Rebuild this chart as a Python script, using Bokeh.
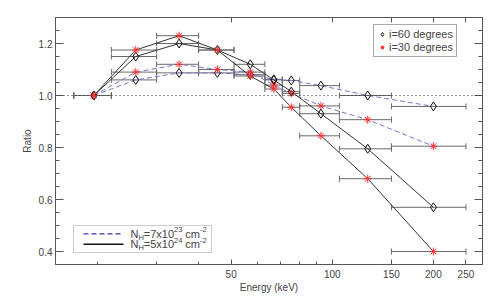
from bokeh.plotting import figure
from bokeh.models import (ColumnDataSource, Whisker, TeeHead, FixedTicker, LogAxis,
                          LinearAxis, Span, Legend, LegendItem, BoxAnnotation, Label, Arrow,
                          CustomLabelingPolicy)
from bokeh.embed import file_html
from bokeh.resources import INLINE

# ---------------- data ----------------
energy = [19.5, 26.0, 35.0, 45.5, 57.0, 67.0, 75.5, 92.5, 127.5, 200.0]
energy_lo = [17, 22, 30, 40, 51, 63, 71, 80, 105, 150]
energy_hi = [22, 30, 40, 51, 63, 71, 80, 105, 150, 250]

ratio_i60_nh5e24 = [1.0, 1.15, 1.20, 1.175, 1.12, 1.06, 1.015, 0.93, 0.795, 0.57]
ratio_i30_nh5e24 = [1.0, 1.175, 1.23, 1.175, 1.075, 1.025, 0.955, 0.845, 0.68, 0.40]
ratio_i60_nh7e23 = [1.0, 1.06, 1.087, 1.087, 1.08, 1.062, 1.058, 1.038, 1.0, 0.958]
ratio_i30_nh7e23 = [1.0, 1.09, 1.12, 1.10, 1.09, 1.04, 1.008, 0.96, 0.907, 0.805]

x_ticks = [50, 100, 150, 200, 250]
x_tick_labels = ["50", "100", "150", "200", "250"]
x_minor_ticks = [20, 30, 40, 60, 70, 80, 90]
y_ticks = [0.4, 0.6, 0.8, 1.0, 1.2]
y_tick_labels = ["0.4", "0.6", "0.8", "1.0", "1.2"]
y_minor_ticks = [0.35, 0.40, 0.45, 0.50, 0.55, 0.60, 0.65, 0.70, 0.75, 0.80, 0.85,
                 0.90, 0.95, 1.00, 1.05, 1.10, 1.15, 1.20, 1.25, 1.30]

legend_markers = ["i=60 degrees", "i=30 degrees"]

FONT = "Liberation Sans"
TXT = "#444444"
AX = "#555555"

p = figure(width=499, height=300, x_axis_type="log", x_range=(15, 280), y_range=(0.35, 1.30),
           output_backend="svg", toolbar_location=None,
           min_border_left=55, min_border_right=16, min_border_top=17, min_border_bottom=36)
p.grid.visible = False
p.outline_line_color = AX
p.background_fill_color = "white"
p.border_fill_color = "white"

hide_labels = CustomLabelingPolicy(
    code="for (let i = 0; i < indices.size; i++) { indices.unset(i) }\nreturn indices")

def style_axis(ax, major_in, minor_in, show_labels):
    ax.axis_line_color = AX
    ax.major_tick_line_color = AX
    ax.minor_tick_line_color = AX
    ax.major_tick_in = major_in
    ax.major_tick_out = 0
    ax.minor_tick_in = minor_in
    ax.minor_tick_out = 0
    ax.major_label_text_font = FONT
    ax.major_label_text_color = TXT
    ax.major_label_text_font_size = "10px"
    if not show_labels:
        ax.major_label_policy = hide_labels
    ax.axis_label_text_font = FONT
    ax.axis_label_text_color = TXT
    ax.axis_label_text_font_size = "10px"
    ax.axis_label_text_font_style = "normal"

xb = p.xaxis[0]
xb.ticker = FixedTicker(ticks=x_ticks, minor_ticks=x_minor_ticks)
xb.major_label_overrides = {t: l for t, l in zip(x_ticks, x_tick_labels)}
xb.axis_label = "Energy (keV)"
style_axis(xb, 5, 3, True)
xb.major_label_standoff = 5
xb.axis_label_standoff = 1

yl = p.yaxis[0]
yl.ticker = FixedTicker(ticks=y_ticks, minor_ticks=y_minor_ticks)
yl.major_label_overrides = {t: l for t, l in zip(y_ticks, y_tick_labels)}
yl.axis_label = "Ratio"
style_axis(yl, 8, 4, True)
yl.major_label_standoff = 3
yl.axis_label_standoff = 3

xt = LogAxis(ticker=FixedTicker(ticks=x_ticks, minor_ticks=[]))
style_axis(xt, 5, 0, False)
xt.major_label_standoff = 0
p.add_layout(xt, "above")

yr = LinearAxis(ticker=FixedTicker(ticks=y_ticks, minor_ticks=y_minor_ticks))
style_axis(yr, 8, 4, False)
yr.major_label_standoff = 0
p.add_layout(yr, "right")

# reference line at ratio = 1
p.add_layout(Span(location=1.0, dimension="width", line_color="#333333",
                  line_dash="1 3", line_width=1))

series = [
    (ratio_i60_nh7e23, "dashed", "diamond"),
    (ratio_i30_nh7e23, "dashed", "asterisk"),
    (ratio_i60_nh5e24, "solid", "diamond"),
    (ratio_i30_nh5e24, "solid", "asterisk"),
]

marker_renderers = {}
for vals, style, mk in series:
    src = ColumnDataSource(dict(x=energy, y=vals, lo=energy_lo, hi=energy_hi))
    if style == "dashed":
        p.line("x", "y", source=src, line_color="#7878cc", line_dash="5 3", line_width=1)
    else:
        p.line("x", "y", source=src, line_color="#333333", line_width=1)
    p.add_layout(Whisker(source=src, base="y", lower="lo", upper="hi", dimension="width",
                         line_color="#6a6a6a", line_width=1,
                         lower_head=TeeHead(size=6, line_color="#6a6a6a", line_width=1),
                         upper_head=TeeHead(size=6, line_color="#6a6a6a", line_width=1)))

for vals, style, mk in series:
    src = ColumnDataSource(dict(x=energy, y=vals))
    if mk == "diamond":
        r = p.scatter("x", "y", source=src, marker="diamond", size=9,
                      fill_color=None, line_color="#111111", line_width=1)
    else:
        r = p.scatter("x", "y", source=src, marker="asterisk", size=8,
                      line_color="#ff3030", line_width=1)
    marker_renderers.setdefault(mk, r)

leg = Legend(items=[LegendItem(label=legend_markers[0], renderers=[marker_renderers["diamond"]]),
                    LegendItem(label=legend_markers[1], renderers=[marker_renderers["asterisk"]])],
             location=(318, 207), orientation="vertical",
             border_line_color=AX, border_line_width=1, background_fill_color="white",
             padding=3, spacing=1, margin=0, label_height=10, glyph_height=10, glyph_width=10,
             label_standoff=2, label_text_font=FONT, label_text_font_size="11px",
             label_text_color=TXT)
p.add_layout(leg, "center")

# column-density legend (bottom-left)
p.add_layout(BoxAnnotation(left=18, right=156, bottom=12, top=39,
                           left_units="screen", right_units="screen",
                           bottom_units="screen", top_units="screen",
                           fill_color="white", fill_alpha=1.0, line_color=AX, line_width=1))
p.add_layout(Arrow(end=None, x_start=28, y_start=30.7, x_end=65, y_end=30.7,
                   start_units="screen", end_units="screen",
                   line_color="#5a5ab8", line_dash="5 3", line_width=1.5))
p.add_layout(Arrow(end=None, x_start=28, y_start=20.3, x_end=68, y_end=20.3,
                   start_units="screen", end_units="screen",
                   line_color="#111111", line_width=1.5))

def txt(x, y, s, size):
    p.add_layout(Label(x=x, y=y, x_units="screen", y_units="screen", text=s,
                       text_font=FONT, text_font_size=f"{size}px", text_color=TXT,
                       text_baseline="middle", text_align="left"))

for yrow, mant, expo in [(30.7, "=7x10", "23"), (20.3, "=5x10", "24")]:
    txt(75, yrow, "N", 11)
    txt(82.9, yrow - 3.5, "H", 7.5)
    txt(88.3, yrow, mant, 11)
    txt(118.6, yrow + 4, expo, 7.5)
    txt(129.7, yrow, "cm", 11)
    txt(144.6, yrow + 4, "-2", 7.5)

open("out.html", "w").write(file_html(p, INLINE))
